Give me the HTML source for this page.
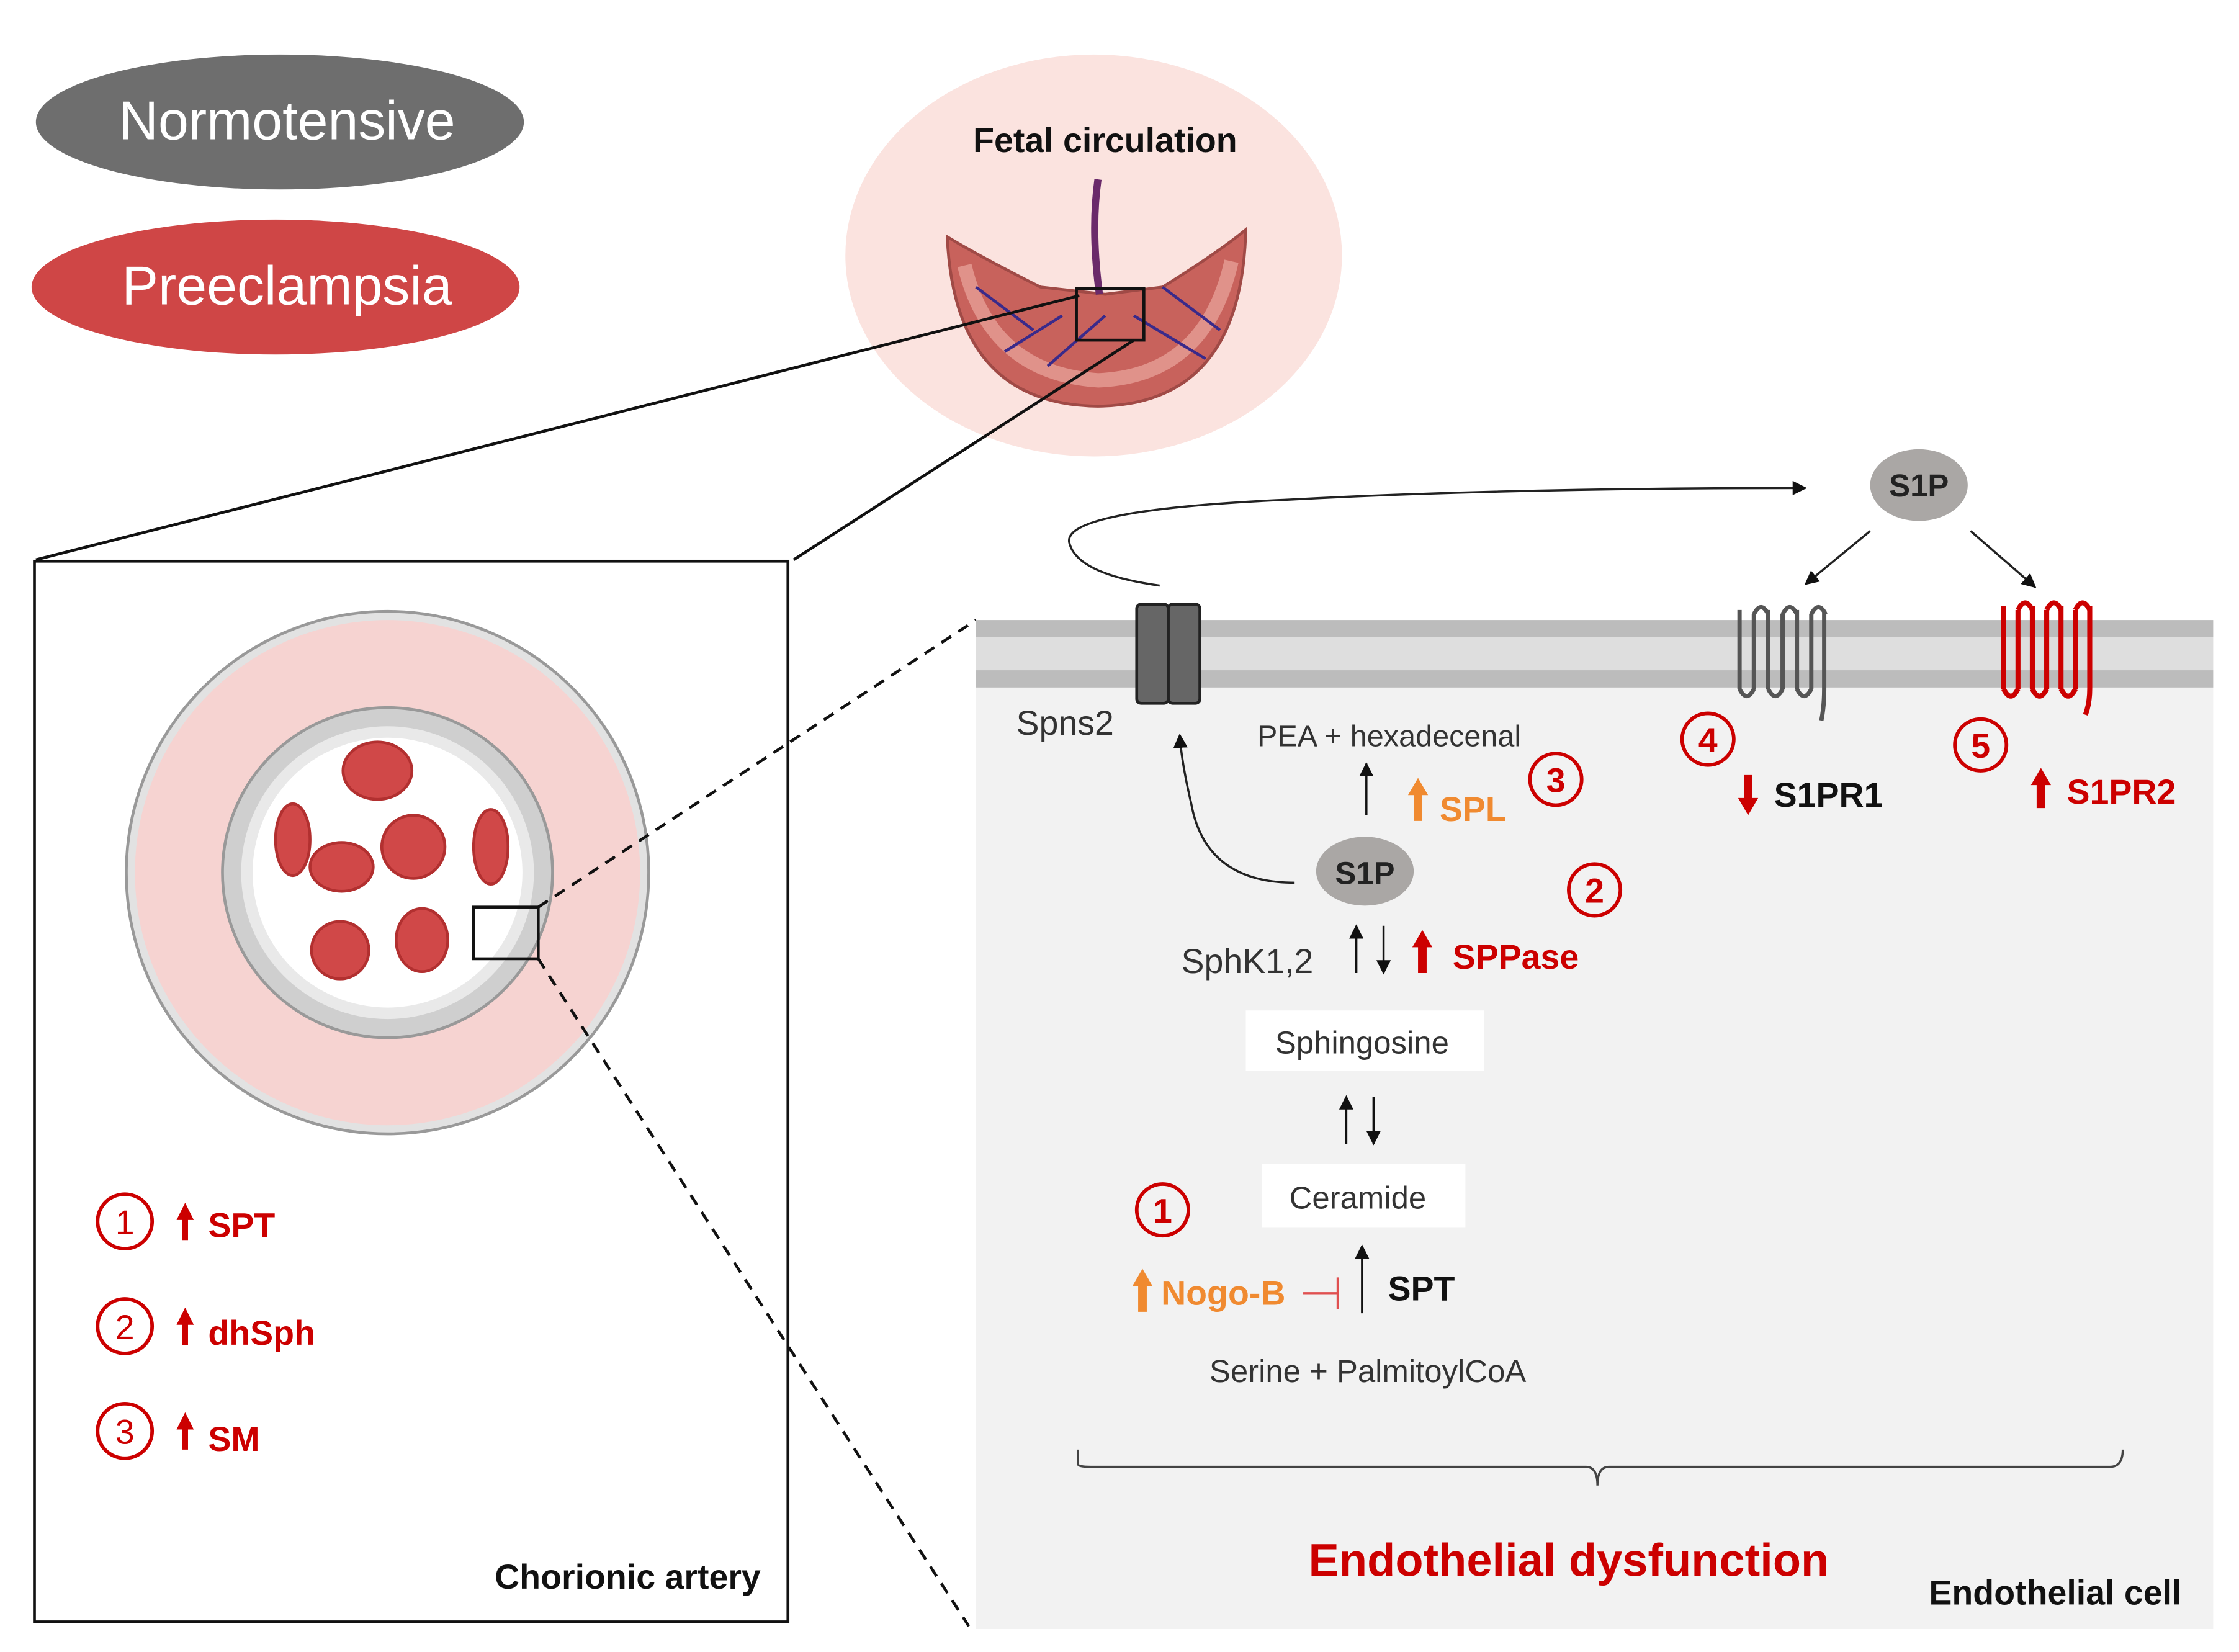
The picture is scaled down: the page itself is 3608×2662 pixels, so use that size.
<!DOCTYPE html>
<html><head><meta charset="utf-8"><style>
html,body{margin:0;padding:0;background:#fff;width:3608px;height:2662px;overflow:hidden}
svg{display:block}
text{font-family:"Liberation Sans",sans-serif}
</style></head><body>
<svg width="3608" height="2662" viewBox="0 0 1560 1151" preserveAspectRatio="none" xmlns="http://www.w3.org/2000/svg">
<defs>
<marker id="ah" markerWidth="10" markerHeight="10" refX="9" refY="5" orient="auto" markerUnits="userSpaceOnUse"><path d="M0,0 L10,5 L0,10 z" fill="#111"/></marker>
</defs>
<!-- legend -->
<ellipse cx="195" cy="85" rx="170" ry="47" fill="#6e6e6e"/>
<text x="200" y="97" font-size="38" fill="#fff" text-anchor="middle">Normotensive</text>
<ellipse cx="192" cy="200" rx="170" ry="47" fill="#cf4646"/>
<text x="200" y="212" font-size="38" fill="#fff" text-anchor="middle">Preeclampsia</text>

<!-- fetal circulation -->
<ellipse cx="762" cy="178" rx="173" ry="140" fill="#fbe3df"/>
<text x="770" y="106" font-size="24" font-weight="bold" text-anchor="middle" fill="#111">Fetal circulation</text>
<path d="M660,165 Q665,282 765,283 Q865,282 868,160 Q850,175 810,200 L770,205 L725,200 Q685,180 660,165 z" fill="#c8625c" stroke="#a04a46" stroke-width="2"/>
<path d="M672,185 Q690,260 765,265 Q840,262 858,182" fill="none" stroke="#e0928a" stroke-width="10"/>
<path d="M680,200 L720,230 M700,245 L740,220 M790,220 L840,250 M810,200 L850,230 M730,255 L770,220" stroke="#3a2a8a" stroke-width="2"/>
<path d="M765,125 Q760,160 766,205" stroke="#6a2a6a" stroke-width="5" fill="none"/>
<rect x="750" y="201" width="47" height="36" fill="none" stroke="#111" stroke-width="2"/>
<line x1="752" y1="206" x2="25" y2="390" stroke="#111" stroke-width="2"/>
<line x1="790" y1="237" x2="553" y2="390" stroke="#111" stroke-width="2"/>

<!-- left box -->
<rect x="24" y="391" width="525" height="739" fill="#fff" stroke="#111" stroke-width="2"/>
<circle cx="270" cy="608" r="182" fill="#e2e2e2" stroke="#999" stroke-width="2"/>
<circle cx="270" cy="608" r="176" fill="#f6d3d1"/>
<circle cx="270" cy="608" r="115" fill="#cfcfcf" stroke="#999" stroke-width="2"/>
<circle cx="270" cy="608" r="102" fill="#e9e9e9"/>
<circle cx="270" cy="608" r="94" fill="#fff"/>
<g fill="#d04848" stroke="#b23030" stroke-width="2">
<ellipse cx="263" cy="537" rx="24" ry="20"/>
<ellipse cx="288" cy="590" rx="22" ry="22"/>
<ellipse cx="238" cy="604" rx="22" ry="17"/>
<ellipse cx="204" cy="585" rx="12" ry="25"/>
<ellipse cx="342" cy="590" rx="12" ry="26"/>
<ellipse cx="237" cy="662" rx="20" ry="20"/>
<ellipse cx="294" cy="655" rx="18" ry="22"/>
</g>
<rect x="330" y="632" width="45" height="36" fill="none" stroke="#111" stroke-width="2"/>
<line x1="375" y1="632" x2="680" y2="432" stroke="#111" stroke-width="2" stroke-dasharray="8,6"/>
<line x1="375" y1="668" x2="675" y2="1133" stroke="#111" stroke-width="2" stroke-dasharray="8,6"/>

<g font-size="24" font-weight="bold" fill="#cc0000">
<circle cx="87" cy="851" r="19" fill="none" stroke="#cc0000" stroke-width="2.5"/><text x="87" y="860" text-anchor="middle" font-weight="normal">1</text>
<path d="M129,838 l-6,12 h4 v14 h4 v-14 h4 z" fill="#cc0000"/><text x="145" y="862">SPT</text>
<circle cx="87" cy="924" r="19" fill="none" stroke="#cc0000" stroke-width="2.5"/><text x="87" y="933" text-anchor="middle" font-weight="normal">2</text>
<path d="M129,911 l-6,12 h4 v14 h4 v-14 h4 z" fill="#cc0000"/><text x="145" y="937">dhSph</text>
<circle cx="87" cy="997" r="19" fill="none" stroke="#cc0000" stroke-width="2.5"/><text x="87" y="1006" text-anchor="middle" font-weight="normal">3</text>
<path d="M129,984 l-6,12 h4 v14 h4 v-14 h4 z" fill="#cc0000"/><text x="145" y="1011">SM</text>
</g>
<text x="530" y="1107" font-size="24" font-weight="bold" text-anchor="end" fill="#111">Chorionic artery</text>

<!-- right panel -->
<rect x="680" y="432" width="862" height="703" fill="#f2f2f2"/>
<rect x="680" y="432" width="862" height="12" fill="#bcbcbc"/>
<rect x="680" y="444" width="862" height="23" fill="#dedede"/>
<rect x="680" y="467" width="862" height="12" fill="#bcbcbc"/>
<rect x="792" y="421" width="22" height="69" rx="3" fill="#666" stroke="#222" stroke-width="2"/>
<rect x="814" y="421" width="22" height="69" rx="3" fill="#666" stroke="#222" stroke-width="2"/>
<text x="708" y="512" font-size="24" fill="#333">Spns2</text>
<path d="M808,408 Q750,400 745,378 Q740,355 900,348 Q1050,340 1258,340" fill="none" stroke="#222" stroke-width="1.5" marker-end="url(#ah)"/>
<ellipse cx="1337" cy="338" rx="34" ry="25" fill="#aaa7a5"/>
<text x="1337" y="346" font-size="22" font-weight="bold" text-anchor="middle" fill="#222">S1P</text>
<line x1="1303" y1="370" x2="1258" y2="407" stroke="#222" stroke-width="1.5" marker-end="url(#ah)"/>
<line x1="1373" y1="370" x2="1418" y2="409" stroke="#222" stroke-width="1.5" marker-end="url(#ah)"/>
<!-- receptors -->
<g fill="none" stroke="#555" stroke-width="3">
<path d="M1212,425 v55 M1222,428 v52 M1232,425 v55 M1242,428 v52 M1252,425 v55 M1262,428 v52 M1271,425 v55 M1212,480 q5,10 10,0 M1232,480 q5,10 10,0 M1252,480 q5,10 10,0 M1271,480 q0,12 -2,22 M1222,428 q5,-10 10,0 M1242,428 q5,-10 10,0 M1262,428 q5,-10 10,0"/>
</g>
<g fill="none" stroke="#cc0000" stroke-width="3.5">
<path d="M1396,422 v58 M1406,425 v55 M1416,422 v58 M1426,425 v55 M1436,422 v58 M1446,425 v55 M1456,422 v58 M1396,480 q5,10 10,0 M1416,480 q5,10 10,0 M1436,480 q5,10 10,0 M1456,480 q0,10 -3,18 M1406,425 q5,-10 10,0 M1426,425 q5,-10 10,0 M1446,425 q5,-10 10,0"/>
</g>
<g font-weight="bold" font-size="24">
<circle cx="1190" cy="515" r="18" fill="none" stroke="#cc0000" stroke-width="2.5"/><text x="1190" y="524" text-anchor="middle" fill="#cc0000">4</text>
<path d="M1218,568 l-7,-12 h4 v-16 h6 v16 h4 z" fill="#cc0000"/><text x="1236" y="562" fill="#111">S1PR1</text>
<circle cx="1380" cy="519" r="18" fill="none" stroke="#cc0000" stroke-width="2.5"/><text x="1380" y="528" text-anchor="middle" fill="#cc0000">5</text>
<path d="M1422,535 l-7,12 h4 v16 h6 v-16 h4 z" fill="#cc0000"/><text x="1440" y="560" fill="#cc0000">S1PR2</text>
</g>
<text x="876" y="520" font-size="21" fill="#333">PEA + hexadecenal</text>
<line x1="952" y1="568" x2="952" y2="532" stroke="#111" stroke-width="1.5" marker-end="url(#ah)"/>
<path d="M988,542 l-7,12 h4 v18 h6 v-18 h4 z" fill="#f08a30"/>
<text x="1003" y="572" font-size="24" font-weight="bold" fill="#f08a30">SPL</text>
<circle cx="1084" cy="543" r="18" fill="none" stroke="#cc0000" stroke-width="2.5"/><text x="1084" y="552" font-size="24" font-weight="bold" text-anchor="middle" fill="#cc0000">3</text>
<ellipse cx="951" cy="607" rx="34" ry="24" fill="#aaa7a5"/>
<text x="951" y="616" font-size="22" font-weight="bold" text-anchor="middle" fill="#222">S1P</text>
<path d="M902,615 Q840,615 830,560 Q823,530 822,512" fill="none" stroke="#222" stroke-width="1.5" marker-end="url(#ah)"/>
<circle cx="1111" cy="620" r="18" fill="none" stroke="#cc0000" stroke-width="2.5"/><text x="1111" y="629" font-size="24" font-weight="bold" text-anchor="middle" fill="#cc0000">2</text>
<text x="823" y="678" font-size="24" fill="#333">SphK1,2</text>
<line x1="945" y1="678" x2="945" y2="645" stroke="#111" stroke-width="1.5" marker-end="url(#ah)"/>
<line x1="964" y1="645" x2="964" y2="678" stroke="#111" stroke-width="1.5" marker-end="url(#ah)"/>
<path d="M991,648 l-7,12 h4 v18 h6 v-18 h4 z" fill="#cc0000"/>
<text x="1012" y="675" font-size="24" font-weight="bold" fill="#cc0000">SPPase</text>
<rect x="868" y="704" width="166" height="42" fill="#fff"/>
<text x="949" y="734" font-size="22" text-anchor="middle" fill="#333">Sphingosine</text>
<line x1="938" y1="797" x2="938" y2="764" stroke="#111" stroke-width="1.5" marker-end="url(#ah)"/>
<line x1="957" y1="764" x2="957" y2="797" stroke="#111" stroke-width="1.5" marker-end="url(#ah)"/>
<rect x="879" y="811" width="142" height="44" fill="#fff"/>
<text x="946" y="842" font-size="22" text-anchor="middle" fill="#333">Ceramide</text>
<circle cx="810" cy="843" r="18" fill="none" stroke="#cc0000" stroke-width="2.5"/><text x="810" y="852" font-size="24" font-weight="bold" text-anchor="middle" fill="#cc0000">1</text>
<path d="M796,884 l-7,12 h4 v18 h6 v-18 h4 z" fill="#f08a30"/>
<text x="809" y="909" font-size="24" font-weight="bold" fill="#f08a30">Nogo-B</text>
<path d="M908,901 h24 M932,890 v22" stroke="#e05050" stroke-width="1.5" fill="none"/>
<line x1="949" y1="915" x2="949" y2="868" stroke="#111" stroke-width="1.5" marker-end="url(#ah)"/>
<text x="967" y="906" font-size="24" font-weight="bold" fill="#111">SPT</text>
<text x="953" y="963" font-size="22" text-anchor="middle" fill="#333">Serine + PalmitoylCoA</text>
<path d="M751,1010 v10 Q751,1022 760,1022 H1105 Q1113,1022 1113,1035 Q1113,1022 1121,1022 H1470 Q1479,1022 1479,1010" fill="none" stroke="#444" stroke-width="1.5"/>
<text x="1093" y="1098" font-size="32" font-weight="bold" text-anchor="middle" fill="#cc0000">Endothelial dysfunction</text>
<text x="1520" y="1118" font-size="24" font-weight="bold" text-anchor="end" fill="#111">Endothelial cell</text>
</svg>
</body></html>
